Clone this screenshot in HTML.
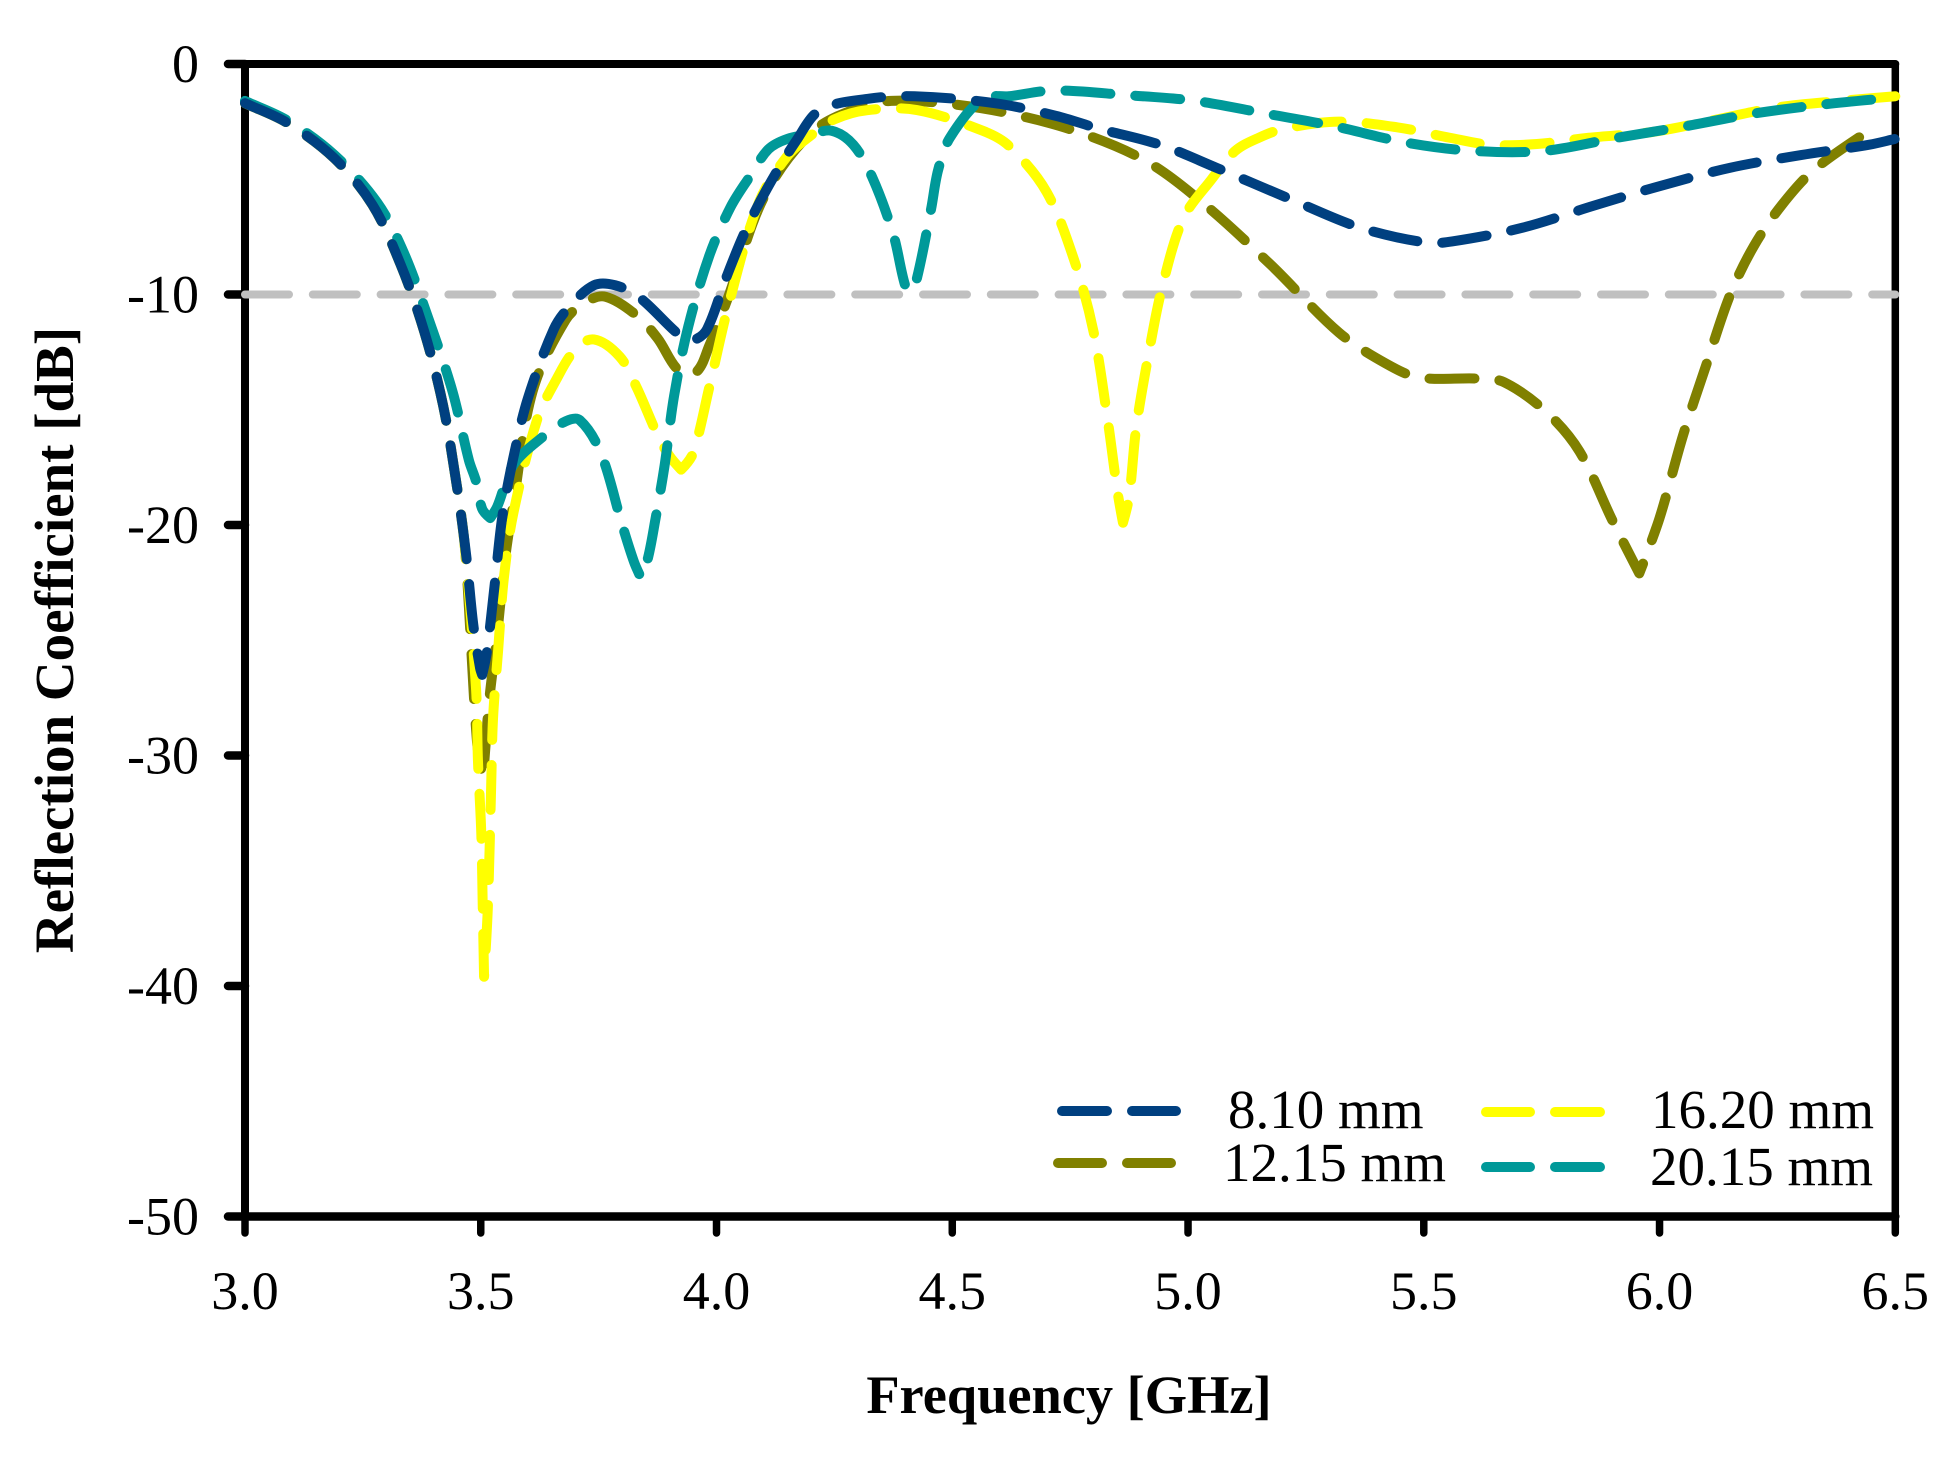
<!DOCTYPE html>
<html lang="en">
<head>
<meta charset="utf-8">
<title>Reflection Coefficient vs Frequency</title>
<style>
html,body{margin:0;padding:0;background:#fff;}
svg{display:block;}
text{font-family:"Liberation Serif",serif;fill:#000;}
</style>
</head>
<body>
<svg id="chart" xmlns="http://www.w3.org/2000/svg" width="1948" height="1457" viewBox="0 0 1948 1457">
  <rect x="0" y="0" width="1948" height="1457" fill="#ffffff"/>
  <g id="axes-layer"></g>
  <g id="series-layer"></g>
  <text x="1069" y="1413" font-size="54.4" font-weight="bold" text-anchor="middle">Frequency [GHz]</text>
  <text transform="translate(73 640) rotate(-90)" font-size="55" font-weight="bold" text-anchor="middle">Reflection Coefficient [dB]</text>
  <g>
    <g>
      <line x1="1062" y1="1111" x2="1107" y2="1111" stroke="#004080" stroke-width="10" stroke-linecap="round"/>
      <line x1="1132" y1="1111" x2="1176" y2="1111" stroke="#004080" stroke-width="10" stroke-linecap="round"/>
      <text x="1228" y="1128" font-size="55">8.10 mm</text>
    </g>
    <g>
      <line x1="1058" y1="1163" x2="1102" y2="1163" stroke="#808000" stroke-width="10" stroke-linecap="round"/>
      <line x1="1127" y1="1163" x2="1171" y2="1163" stroke="#808000" stroke-width="10" stroke-linecap="round"/>
      <text x="1223" y="1181" font-size="55">12.15 mm</text>
    </g>
    <g>
      <line x1="1486" y1="1112" x2="1530" y2="1112" stroke="#ffff00" stroke-width="10" stroke-linecap="round"/>
      <line x1="1555" y1="1112" x2="1600" y2="1112" stroke="#ffff00" stroke-width="10" stroke-linecap="round"/>
      <text x="1651" y="1128" font-size="55">16.20 mm</text>
    </g>
    <g>
      <line x1="1486" y1="1167" x2="1530" y2="1167" stroke="#009999" stroke-width="10" stroke-linecap="round"/>
      <line x1="1555" y1="1167" x2="1600" y2="1167" stroke="#009999" stroke-width="10" stroke-linecap="round"/>
      <text x="1650" y="1185" font-size="55">20.15 mm</text>
    </g>
  </g>
</svg>
<script>
const xTickValues = [3.0, 3.5, 4.0, 4.5, 5.0, 5.5, 6.0, 6.5];
const xTickLabels = ["3.0", "3.5", "4.0", "4.5", "5.0", "5.5", "6.0", "6.5"];
const yTickValues = [0, -10, -20, -30, -40, -50];
const yTickLabels = ["0", "-10", "-20", "-30", "-40", "-50"];
const thresholdDb = -10;

const freq810 = [3.0,3.09,3.19,3.27,3.33,3.38,3.42,3.45,3.469,3.484,3.4985,3.503,3.513,3.53,3.546,3.57,3.6,3.655,3.685,3.74,3.785,3.835,3.93,3.955,3.98,4.02,4.06,4.11,4.17,4.22,4.325,4.42,4.59,4.72,4.81,4.94,5.06,5.21,5.365,5.505,5.56,5.71,5.86,6.0,6.15,6.3,6.445,6.5];
const db810 = [-1.7,-2.56,-4.1,-6.1,-8.7,-11.6,-14.8,-18.4,-21.3,-24.3,-26.2,-26.5,-25.5,-22.5,-19.6,-17,-14.5,-11.5,-10.6,-9.6,-9.6,-10.1,-11.9,-11.95,-11.5,-9.3,-7.3,-5.3,-3.3,-2.0,-1.5,-1.4,-1.7,-2.25,-2.8,-3.5,-4.5,-5.8,-7.1,-7.75,-7.7,-7.1,-6.15,-5.3,-4.5,-3.95,-3.5,-3.25];

const freq1215 = [3.0,3.09,3.19,3.27,3.33,3.38,3.42,3.45,3.467,3.492,3.505,3.518,3.535,3.552,3.569,3.61,3.68,3.725,3.765,3.83,3.875,3.92,3.955,3.985,4.025,4.1,4.2,4.3,4.37,4.48,4.61,4.76,4.91,5.03,5.175,5.32,5.42,5.49,5.615,5.67,5.76,5.83,5.9,5.957,6.0,6.05,6.1,6.15,6.2,6.26,6.33,6.465];
const db1215 = [-1.7,-2.56,-4.1,-6.1,-8.7,-11.6,-14.8,-18.4,-21.1,-29.4,-31,-27.6,-24.7,-21.4,-19.1,-14.2,-11.1,-10.3,-10.1,-10.9,-11.9,-13.3,-13.4,-12.2,-10.1,-5.8,-3,-1.9,-1.6,-1.7,-2.1,-2.9,-4.2,-6,-8.7,-11.65,-13,-13.6,-13.65,-13.8,-15.1,-16.8,-19.8,-22.1,-19.7,-16.1,-13,-10,-7.9,-6.1,-4.55,-2.6];

const freq1620 = [3.0,3.09,3.19,3.27,3.33,3.38,3.42,3.45,3.467,3.49,3.494,3.501,3.504,3.507,3.515,3.522,3.526,3.537,3.549,3.569,3.62,3.66,3.70,3.74,3.795,3.83,3.875,3.90,3.925,3.95,3.985,4.025,4.09,4.15,4.2,4.25,4.32,4.425,4.565,4.62,4.70,4.76,4.8,4.83,4.85,4.862,4.875,4.89,4.915,4.945,4.99,5.05,5.1,5.15,5.205,5.32,5.445,5.555,5.64,5.74,5.85,5.985,6.1,6.245,6.385,6.5];
const db1620 = [-1.7,-2.56,-4.1,-6.1,-8.7,-11.6,-14.8,-18.4,-21.1,-27.1,-30.2,-33.3,-36.3,-39.6,-36.6,-31.4,-28.4,-25.4,-22.3,-19.5,-15.4,-13.7,-12.4,-11.95,-12.7,-14,-16.1,-17,-17.6,-16.9,-14,-10.5,-6,-4,-3.1,-2.4,-2,-2,-2.9,-3.55,-5.55,-8.6,-11.65,-15.5,-18.5,-19.9,-18.8,-15.8,-12.75,-9.7,-6.7,-5,-3.77,-3.2,-2.8,-2.5,-2.75,-3.2,-3.5,-3.47,-3.2,-2.95,-2.5,-1.9,-1.6,-1.4];

const freq2015 = [3.0,3.09,3.19,3.28,3.335,3.39,3.44,3.475,3.49,3.503,3.52,3.535,3.569,3.63,3.68,3.71,3.755,3.80,3.825,3.84,3.855,3.87,3.89,3.91,3.94,3.985,4.03,4.07,4.11,4.15,4.2,4.245,4.29,4.33,4.375,4.4,4.412,4.425,4.455,4.47,4.495,4.565,4.62,4.715,4.87,5.015,5.165,5.31,5.46,5.605,5.755,5.91,6.055,6.2,6.35,6.5];
const db2015 = [-1.6,-2.45,-3.95,-6.0,-8.1,-11.1,-14.2,-17.2,-18.1,-19.3,-19.7,-19.2,-17.4,-16.2,-15.5,-15.45,-16.9,-20,-21.6,-22.3,-21.4,-19.8,-17.4,-14.4,-11.4,-8.3,-6.2,-4.9,-3.7,-3.25,-3.05,-2.9,-3.5,-4.9,-7.4,-9.6,-9.9,-9.3,-6.3,-4.6,-3.2,-1.5,-1.4,-1.15,-1.35,-1.6,-2.15,-2.7,-3.4,-3.77,-3.77,-3.2,-2.7,-2.15,-1.75,-1.45];

const NS = "http://www.w3.org/2000/svg";
const plotLeft = 245, plotRight = 1895.3, plotTop = 64, plotBottom = 1216.5;
const xMin = 3.0, xMax = 6.5, yMax = 0, yMin = -50;

function xScale(f) { return plotLeft + (f - xMin) / (xMax - xMin) * (plotRight - plotLeft); }
function yScale(d) { return plotTop + (yMax - d) / (yMax - yMin) * (plotBottom - plotTop); }

function smoothPath(fs, ds) {
  const p = fs.map((f, i) => [xScale(f), yScale(ds[i])]);
  function tangent(i) {
    const a = p[Math.max(i - 1, 0)], b = p[i], c = p[Math.min(i + 1, p.length - 1)];
    const inX = b[0] - a[0], inY = b[1] - a[1], outX = c[0] - b[0], outY = c[1] - b[1];
    if (inX * outX + inY * outY < 0) return [0, 0];
    const dx = c[0] - a[0], dy = c[1] - a[1], n = Math.hypot(dx, dy) || 1;
    return [dx / n, dy / n];
  }
  let out = "M" + p[0][0].toFixed(2) + " " + p[0][1].toFixed(2);
  for (let i = 0; i < p.length - 1; i++) {
    const b = p[i], c = p[i + 1];
    const len = Math.hypot(c[0] - b[0], c[1] - b[1]) * 0.33;
    const t1 = tangent(i), t2 = tangent(i + 1);
    out += "C" + (b[0] + t1[0] * len).toFixed(2) + " " + (b[1] + t1[1] * len).toFixed(2) + " " + (c[0] - t2[0] * len).toFixed(2) + " " + (c[1] - t2[1] * len).toFixed(2) + " " + c[0].toFixed(2) + " " + c[1].toFixed(2);
  }
  return out;
}

const seriesLayer = document.getElementById("series-layer");
const axesLayer = document.getElementById("axes-layer");

const threshold = document.createElementNS(NS, "line");


threshold.setAttribute("x1", xScale(xMin));
threshold.setAttribute("x2", xScale(xMax));
threshold.setAttribute("y1", yScale(thresholdDb));
threshold.setAttribute("y2", yScale(thresholdDb));
threshold.setAttribute("stroke", "#c0c0c0");
threshold.setAttribute("stroke-width", "8");
threshold.setAttribute("stroke-linecap", "round");
threshold.setAttribute("stroke-dasharray", "44 23.8");

function drawSeries(fs, ds, color, name) {
  const path = document.createElementNS(NS, "path");
  
  
  path.setAttribute("d", smoothPath(fs, ds));
  path.setAttribute("fill", "none");
  path.setAttribute("stroke", color);
  path.setAttribute("stroke-width", "10");
  path.setAttribute("stroke-linecap", "round");
  path.setAttribute("stroke-linejoin", "round");
  path.setAttribute("stroke-dasharray", "45 25");
  seriesLayer.appendChild(path);
}

function axisLine(x1, y1, x2, y2, w, name) {
  const l = document.createElementNS(NS, "line");
  
  
  l.setAttribute("x1", x1);
  l.setAttribute("y1", y1);
  l.setAttribute("x2", x2);
  l.setAttribute("y2", y2);
  l.setAttribute("stroke", "#000");
  l.setAttribute("stroke-width", w);
  l.setAttribute("stroke-linecap", "round");
  axesLayer.appendChild(l);
}
axisLine(plotLeft, plotTop, plotRight, plotTop, 8, "plot-frame-top");
axisLine(plotLeft, plotBottom, plotRight, plotBottom, 8.5, "plot-frame-bottom");
axisLine(plotLeft, plotTop, plotLeft, plotBottom, 8, "y-axis-line");
axisLine(plotRight, plotTop, plotRight, plotBottom, 7.5, "plot-frame-right");

xTickValues.forEach((v, i) => {
  const x = xScale(v);
  axisLine(x, plotBottom, x, 1233, 7.5, "x-axis-tick");
  const t = document.createElementNS(NS, "text");
  
  
  t.setAttribute("x", x);
  t.setAttribute("y", 1309);
  t.setAttribute("font-size", "54");
  t.setAttribute("text-anchor", "middle");
  t.textContent = xTickLabels[i];
  axesLayer.appendChild(t);
});

yTickValues.forEach((v, i) => {
  const y = yScale(v);
  axisLine(228, y, plotLeft, y, 8.5, "y-axis-tick");
  const t = document.createElementNS(NS, "text");
  
  
  t.setAttribute("x", 199);
  t.setAttribute("y", y + 18);
  t.setAttribute("font-size", "54");
  t.setAttribute("text-anchor", "end");
  t.textContent = yTickLabels[i];
  axesLayer.appendChild(t);
});

seriesLayer.appendChild(threshold);
drawSeries(freq1215, db1215, "#808000", "series-12-15-mm");
drawSeries(freq1620, db1620, "#ffff00", "series-16-20-mm");
drawSeries(freq2015, db2015, "#009999", "series-20-15-mm");
drawSeries(freq810, db810, "#004080", "series-8-10-mm");
</script>
</body>
</html>
